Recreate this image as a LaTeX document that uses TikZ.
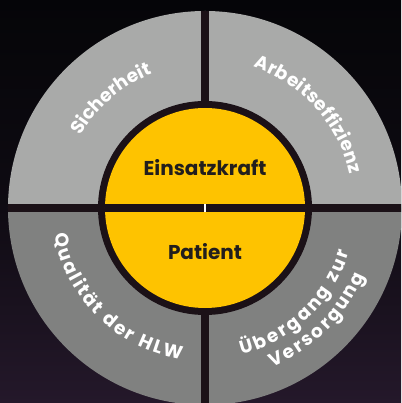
\documentclass[tikz,border=0pt]{standalone}
\usepackage{fontspec}
\setmainfont{Poppins}
\usetikzlibrary{decorations.text, positioning}
\definecolor{bgTop}{HTML}{050508}
\definecolor{bgBottom}{HTML}{24182A}
\definecolor{ringLight}{HTML}{A9AAA9}
\definecolor{ringDark}{HTML}{808180}
\definecolor{coreYellow}{HTML}{FEC300}
\definecolor{lineDark}{HTML}{1B1117}
\definecolor{textDark}{HTML}{221E1D}
% curved label: start angle, end angle, radius, text
\newcommand{\RingText}[4]{
    \path[decorate, decoration={text along path, text align=fit to path, text color=white,
        text={|\bfseries\fontsize{18.5}{18.5}\selectfont|#4}}] (#1:#3) arc[start angle=#1, end angle=#2, radius=#3];
}

\begin{document}
\begin{tikzpicture}[x=1pt, y=1pt]
        \useasboundingbox (-205,-195) rectangle (196,208);
        \clip (-205,-195) rectangle (196,208);
        % Background
        \shade[top color=bgTop, bottom color=bgBottom, middle color=bgTop!70!bgBottom] (-205,-195) rectangle (196,208);
        
        % Outer ring halves
        \fill[ringLight] (0,0) -- (0:197) arc[start angle=0, end angle=180, radius=197] -- cycle;
        \fill[ringDark] (0,0) -- (180:197) arc[start angle=180, end angle=360, radius=197] -- cycle;
        
        % Cross dividers
        \draw[lineDark, line width=8] (0,-197) -- (0,197);
        \draw[lineDark, line width=8] (-197,0) -- (197,0);
        
        % Core
        \fill[lineDark] (0,0) circle[radius=107];
        \fill[coreYellow] (0,0) circle[radius=100];
        \draw[lineDark, line width=7.5] (-100,0) -- (100,0);
        \draw[white, line width=1.3] (0,-4) -- (0,4);
        
        \node[font=\bfseries\fontsize{20}{20}\selectfont, text=textDark] (force) at (0,40) {Einsatzkraft};
        \node[font=\bfseries\fontsize{20}{20}\selectfont, text=textDark] (patient) at (0,-44) {Patient};
        
        % Ring labels
        \RingText{150}{113}{144}{Sicherheit}
        \RingText{71}{13}{149}{Arbeitseffizienz}
        \RingText{190}{261}{153}{Qualität der HLW}
        \RingText{284}{343}{151}{Übergang zur}
        \RingText{293}{337}{173}{Versorgung}
        
    \end{tikzpicture}
\end{document}
